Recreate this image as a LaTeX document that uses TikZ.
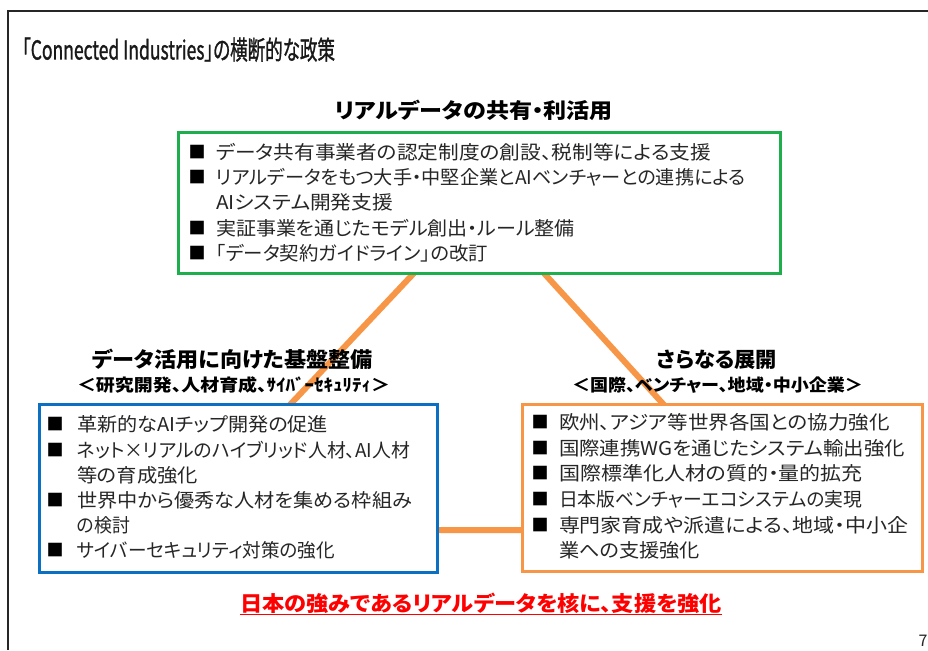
\documentclass[tikz,border=0pt]{standalone}
\usepackage{fontspec}
\usepackage{graphicx}
\setmainfont[RawFeature=+palt]{Noto Sans CJK JP}
\newfontfamily\titlefont[RawFeature=+palt, FakeBold=1.4]{Noto Sans CJK JP}
\definecolor{gcol}{HTML}{1FAE4E}
\definecolor{bcol}{HTML}{0B6FC2}
\definecolor{ocol}{HTML}{F79646}
\definecolor{tcol}{HTML}{262626}
\definecolor{rcol}{HTML}{FF0000}
\newcommand\fw[2]{\resizebox{#1pt}{\height}{#2}}
\tikzset{
  txt/.style={inner sep=0pt, outer sep=0pt, anchor=base west, text=tcol, font=\fontsize{19}{23}\selectfont},
  bul/.style={inner sep=0pt, outer sep=0pt, anchor=center, text=black, font=\fontsize{17}{19}\selectfont},
  head/.style={inner sep=0pt, outer sep=0pt, anchor=base west, text=black, font=\fontsize{21}{25}\selectfont\bfseries},
  subhead/.style={inner sep=0pt, outer sep=0pt, anchor=base west, text=black, font=\fontsize{17}{20}\selectfont\bfseries},
  panel/.style={draw=#1, line width=3pt, fill=white, inner sep=0pt, anchor=north west},
  link/.style={draw=ocol, line width=6pt, line join=miter}
}
\begin{document}
\begin{tikzpicture}[x=1pt,y=-1pt]
\useasboundingbox (0,0) rectangle (928,650);
\fill[white] (0,0) rectangle (928,650);
% page frame
\draw[line width=2pt, black!85] (8,650) -- (8,11) -- (928,11);
% title
\node[txt, font=\fontsize{26}{30}\selectfont\titlefont, text=black!90] (title) at (22,59.5) {\fw{313}{「Connected Industries」の横断的な政策}};
% triangle of links
\coordinate (apex) at (480,203);
\coordinate (bl) at (172,530);
\coordinate (br) at (778,530);
\draw[link] (apex) -- (bl) -- (br) -- cycle;
% boxes
\node[panel=gcol, minimum width=602pt, minimum height=141pt] (tb) at (177,131) {};
\node[panel=bcol, minimum width=398pt, minimum height=168pt] (lb) at (38,403) {};
\node[panel=ocol, minimum width=400pt, minimum height=167pt] (rb) at (521,403) {};
% top heading and items
\node[head] (th) at (335,119) {\fw{278}{リアルデータの共有・利活用}};
\node[bul] (tb1) at (197,152) {■};
\node[bul] (tb2) at (197,177) {■};
\node[bul] (tb4) at (197,228) {■};
\node[bul] (tb5) at (197,253) {■};
\node[txt] (t1) at (216,159.2) {\fw{495}{データ共有事業者の認定制度の創設、税制等による支援}};
\node[txt] (t2) at (216,184.2) {\fw{530}{リアルデータをもつ大手・中堅企業とAIベンチャーとの連携による}};
\node[txt] (t3) at (216,209.2) {\fw{177}{AIシステム開発支援}};
\node[txt] (t4) at (216,235.2) {\fw{359}{実証事業を通じたモデル創出・ルール整備}};
\node[txt] (t5) at (216,260.2) {\fw{272}{「データ契約ガイドライン」の改訂}};
% left heading and items
\node[head] (lh) at (92,367) {\fw{281}{データ活用に向けた基盤整備}};
\node[subhead] (ls) at (77,391.5) {\fw{313}{＜研究開発、人材育成、ｻｲﾊﾞｰｾｷｭﾘﾃｨ＞}};
\node[bul] (lb1) at (55,424) {■};
\node[bul] (lb2) at (55,450) {■};
\node[bul] (lb4) at (55,500) {■};
\node[bul] (lb6) at (55,550) {■};
\node[txt] (l1) at (77,431.2) {\fw{251}{革新的なAIチップ開発の促進}};
\node[txt] (l2) at (77,457.2) {\fw{333}{ネット×リアルのハイブリッド人材、AI人材}};
\node[txt] (l3) at (77,482.2) {\fw{121}{等の育成強化}};
\node[txt] (l4) at (77,507.2) {\fw{335}{世界中から優秀な人材を集める枠組み}};
\node[txt] (l5) at (77,532.2) {\fw{53}{の検討}};
\node[txt] (l6) at (77,557.2) {\fw{258}{サイバーセキュリティ対策の強化}};
% right heading and items
\node[head] (rh) at (657,367) {\fw{120}{さらなる展開}};
\node[subhead] (rs) at (572,391.5) {\fw{291}{＜国際、ベンチャー、地域・中小企業＞}};
\node[bul] (rb1) at (540,422) {■};
\node[bul] (rb2) at (540,448) {■};
\node[bul] (rb3) at (540,473) {■};
\node[bul] (rb4) at (540,499) {■};
\node[bul] (rb5) at (540,525) {■};
\node[txt] (r1) at (559,429.2) {\fw{331}{欧州、アジア等世界各国との協力強化}};
\node[txt] (r2) at (559,455.2) {\fw{346}{国際連携WGを通じたシステム輸出強化}};
\node[txt] (r3) at (559,480.2) {\fw{304}{国際標準化人材の質的・量的拡充}};
\node[txt] (r4) at (559,506.2) {\fw{303}{日本版ベンチャーエコシステムの実現}};
\node[txt] (r5) at (559,532.2) {\fw{349}{専門家育成や派遣による、地域・中小企}};
\node[txt] (r6) at (559,557.2) {\fw{141}{業への支援強化}};
% conclusion
\node[head, text=rcol] (concl) at (240,611) {\fw{482}{日本の強みであるリアルデータを核に、支援を強化}};
\draw[rcol, line width=1.5pt] ([yshift=-3.5pt]concl.base west) -- ([yshift=-3.5pt]concl.base east);
% page number
\node[txt, font=\fontsize{16}{18}\selectfont] (pno) at (918.5,646) {7};
\end{tikzpicture}
\end{document}
